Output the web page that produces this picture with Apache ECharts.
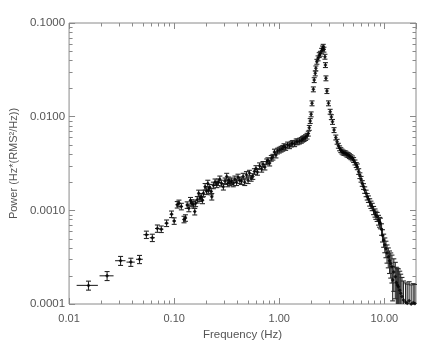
<!DOCTYPE html>
<html>
<head>
<meta charset="utf-8">
<title>Power spectrum</title>
<script src="https://cdn.jsdelivr.net/npm/echarts@6/dist/echarts.min.js"></script>
<style>
    html, body { margin: 0; padding: 0; background: #fff; }
    #chart { width: 436px; height: 349px; }
</style>
</head>
<body>
<div id="chart"></div>
<script>
    // frequency (Hz), power and relative power error
    let freq = [
        0.0153, 0.0230, 0.0309, 0.0387, 0.0468, 0.0544, 0.0620, 0.0692, 0.0754, 0.0847, 0.0944, 0.1000,
        0.107, 0.111, 0.117, 0.124, 0.128, 0.133, 0.138, 0.143, 0.147, 0.152, 0.157, 0.160,
        0.166, 0.171, 0.176, 0.181, 0.186, 0.190, 0.197, 0.203, 0.209, 0.212, 0.218, 0.225,
        0.228, 0.236, 0.245, 0.254, 0.263, 0.272, 0.282, 0.294, 0.305, 0.316, 0.323, 0.331,
        0.339, 0.352, 0.365, 0.378, 0.392, 0.405, 0.421, 0.437, 0.453, 0.469, 0.487, 0.505,
        0.52, 0.54, 0.56, 0.58, 0.60, 0.62, 0.65, 0.68, 0.70, 0.73, 0.76, 0.78,
        0.81, 0.84, 0.87, 0.90, 0.93, 0.96, 1.00, 1.04, 1.08, 1.11, 1.15, 1.20,
        1.25, 1.30, 1.34, 1.40, 1.45, 1.50, 1.56, 1.62, 1.67, 1.72, 1.78, 1.84,
        1.89, 1.93, 1.97, 2.01, 2.05, 2.11, 2.15, 2.20, 2.23,
        2.28, 2.34, 2.40, 2.46, 2.53, 2.58, 2.62, 2.66, 2.72,
        2.75, 2.78, 2.84, 2.94, 3.05, 3.13, 3.21, 3.32, 3.45,
        3.55, 3.65, 3.75, 3.85, 3.95, 4.05, 4.15, 4.29, 4.40, 4.52,
        4.65, 4.80, 4.96, 5.10, 5.25, 5.40, 5.53, 5.70, 5.85, 6.00,
        6.16, 6.33, 6.50, 6.70, 6.87, 7.05, 7.25, 7.45, 7.66, 7.90,
        8.15, 8.30, 8.54, 8.80, 9.00, 9.17, 9.40, 9.60, 9.85, 10.1,
        10.35, 10.6, 10.9, 11.2, 11.5, 11.8, 12.0, 12.3, 12.7, 13.0,
        13.3, 13.6, 14.0, 14.3, 14.7, 15.2, 15.9, 16.5, 17.2, 18.0, 18.8, 19.5
    ];
    let power = [
        1.58e-4, 2.0e-4, 2.9e-4, 2.8e-4, 3.0e-4, 5.5e-4, 5.1e-4, 6.4e-4, 6.3e-4, 7.3e-4, 9.1e-4, 7.7e-4,
        1.15e-3, 1.19e-3, 1.10e-3, 8.0e-4, 8.3e-4, 1.14e-3, 1.05e-3, 1.27e-3, 1.20e-3, 1.15e-3, 9.7e-4, 1.19e-3,
        1.30e-3, 1.52e-3, 1.35e-3, 1.40e-3, 1.28e-3, 1.52e-3, 1.79e-3, 1.60e-3, 1.94e-3, 1.65e-3, 1.75e-3, 1.59e-3,
        1.40e-3, 1.85e-3, 2.00e-3, 1.90e-3, 2.00e-3, 2.15e-3, 1.94e-3, 1.79e-3, 2.05e-3, 2.30e-3, 1.94e-3, 2.10e-3,
        2.00e-3, 2.05e-3, 1.94e-3, 2.15e-3, 2.00e-3, 2.25e-3, 2.10e-3, 2.05e-3, 2.30e-3, 2.00e-3, 2.40e-3, 2.10e-3,
        2.50e-3, 2.20e-3, 2.30e-3, 2.60e-3, 2.80e-3, 2.55e-3, 3.00e-3, 2.75e-3, 3.10e-3, 2.90e-3, 3.30e-3, 3.40e-3,
        3.20e-3, 3.60e-3, 3.70e-3, 4.20e-3, 3.90e-3, 4.30e-3, 4.40e-3, 4.50e-3, 4.60e-3, 4.80e-3, 4.70e-3, 5.00e-3,
        4.90e-3, 5.10e-3, 5.20e-3, 5.15e-3, 5.40e-3, 5.40e-3, 5.50e-3, 5.60e-3, 5.75e-3, 5.85e-3, 6.00e-3, 6.20e-3,
        6.6e-3, 7.6e-3, 9.0e-3, 0.0106, 0.0139, 0.0196, 0.0246, 0.0290, 0.0328,
        0.0386, 0.0420, 0.0455, 0.0470, 0.0506, 0.0535, 0.0558, 0.0520, 0.0437,
        0.0356, 0.0257, 0.0188, 0.0139, 0.0113, 0.0099, 0.0088, 0.0072, 0.0060,
        5.4e-3, 4.9e-3, 4.6e-3, 4.4e-3, 4.25e-3, 4.15e-3, 4.1e-3, 4.06e-3, 3.95e-3, 3.9e-3,
        3.8e-3, 3.7e-3, 3.59e-3, 3.45e-3, 3.25e-3, 3.05e-3, 2.92e-3, 2.60e-3, 2.35e-3, 2.15e-3,
        1.94e-3, 1.80e-3, 1.65e-3, 1.52e-3, 1.40e-3, 1.32e-3, 1.22e-3, 1.15e-3, 1.09e-3, 1.00e-3,
        9.4e-4, 8.9e-4, 8.55e-4, 7.9e-4, 7.5e-4, 7.3e-4, 6.3e-4, 5.4e-4, 4.8e-4, 4.3e-4,
        3.9e-4, 3.5e-4, 3.2e-4, 2.9e-4, 2.7e-4, 2.5e-4, 1.8e-4, 2.2e-4, 1.96e-4, 1.7e-4,
        1.6e-4, 1.53e-4, 1.4e-4, 1.3e-4, 1.2e-4, 1.1e-4, 1.05e-4, 1.02e-4, 1.08e-4, 1.0e-4, 1.03e-4, 1.01e-4
    ];
    let powerErr = [
        0.11, 0.11, 0.11, 0.10, 0.10, 0.09, 0.09, 0.09, 0.08, 0.08, 0.08, 0.08,
        0.08, 0.08, 0.08, 0.08, 0.08, 0.08, 0.08, 0.08, 0.08, 0.08, 0.08, 0.08,
        0.08, 0.08, 0.08, 0.08, 0.08, 0.08, 0.08, 0.08, 0.08, 0.08, 0.08, 0.08,
        0.08, 0.08, 0.08, 0.08, 0.08, 0.08, 0.08, 0.08, 0.08, 0.08, 0.08, 0.08,
        0.08, 0.08, 0.08, 0.08, 0.08, 0.08, 0.08, 0.08, 0.08, 0.08, 0.08, 0.08,
        0.07, 0.07, 0.07, 0.07, 0.07, 0.07, 0.07, 0.07, 0.07, 0.07, 0.07, 0.07,
        0.07, 0.07, 0.07, 0.07, 0.07, 0.07, 0.07, 0.07, 0.07, 0.07, 0.07, 0.07,
        0.07, 0.07, 0.07, 0.07, 0.07, 0.07, 0.07, 0.07, 0.07, 0.07, 0.07, 0.07,
        0.06, 0.06, 0.06, 0.06, 0.06, 0.06, 0.06, 0.06, 0.06,
        0.06, 0.06, 0.06, 0.06, 0.06, 0.06, 0.06, 0.06, 0.06,
        0.06, 0.06, 0.06, 0.06, 0.06, 0.06, 0.06, 0.06, 0.06,
        0.06, 0.06, 0.06, 0.06, 0.06, 0.06, 0.06, 0.06, 0.06, 0.06,
        0.06, 0.06, 0.06, 0.06, 0.06, 0.06, 0.07, 0.07, 0.07, 0.07,
        0.07, 0.07, 0.08, 0.08, 0.08, 0.08, 0.09, 0.09, 0.09, 0.10,
        0.10, 0.10, 0.11, 0.12, 0.12, 0.13, 0.14, 0.15, 0.16, 0.18,
        0.20, 0.22, 0.24, 0.27, 0.30, 0.33, 0.40, 0.38, 0.42, 0.45,
        0.50, 0.55, 0.60, 0.60, 0.60, 0.60, 0.60, 0.60, 0.60, 0.60, 0.60, 0.60
    ];
    // half width of a frequency bin (Hz)
    let freqHalfBin = 0.0035;

    // minor ticks (2..9 of each decade)
    let xMinorTicks = [0.02, 0.03, 0.04, 0.05, 0.06, 0.07, 0.08, 0.09,
        0.2, 0.3, 0.4, 0.5, 0.6, 0.7, 0.8, 0.9,
        2, 3, 4, 5, 6, 7, 8, 9];
    let yMinorTicks = [2e-4, 3e-4, 4e-4, 5e-4, 6e-4, 7e-4, 8e-4, 9e-4,
        2e-3, 3e-3, 4e-3, 5e-3, 6e-3, 7e-3, 8e-3, 9e-3,
        0.02, 0.03, 0.04, 0.05, 0.06, 0.07, 0.08, 0.09];

    let chart = echarts.init(document.getElementById('chart'));

    let points = freq.map(function (f, i) {
        return [f, power[i], powerErr[i]];
    });
    let minorData = xMinorTicks.map(function (v) {
        return [v, 0.001, 0];
    }).concat(yMinorTicks.map(function (v) {
        return [1, v, 1];
    }));

    let frameColor = '#8a8a8a';
    let textColor = '#555';
    let fontFamily = 'Liberation Sans, Arial, sans-serif';

    function errorBar(params, api) {
        let f = api.value(0), p = api.value(1), e = api.value(2);
        let top = api.coord([f, p * (1 + e)]);
        let bot = api.coord([f, p * (1 - e)]);
        let left = api.coord([f - freqHalfBin, p]);
        let right = api.coord([f + freqHalfBin, p]);
        let cap = 2.5;
        let style = {stroke: '#2a2a2a', lineWidth: 1.1};
        return {
            type: 'group',
            children: [
                {type: 'line', shape: {x1: top[0], y1: top[1], x2: bot[0], y2: bot[1]}, style: style},
                {type: 'line', shape: {x1: top[0] - cap, y1: top[1], x2: top[0] + cap, y2: top[1]}, style: style},
                {type: 'line', shape: {x1: bot[0] - cap, y1: bot[1], x2: bot[0] + cap, y2: bot[1]}, style: style},
                {type: 'line', shape: {x1: left[0], y1: left[1], x2: right[0], y2: right[1]}, style: style}
            ]
        };
    }

    function minorTick(params, api) {
        let cs = params.coordSys;
        let len = 3.5;
        let style = {stroke: frameColor, lineWidth: 1};
        if (api.value(2) === 0) {
            let x = Math.round(api.coord([api.value(0), 0.001])[0]) + 0.5;
            return {
                type: 'group',
                children: [
                    {type: 'line', shape: {x1: x, y1: cs.y + cs.height, x2: x, y2: cs.y + cs.height - len}, style: style},
                    {type: 'line', shape: {x1: x, y1: cs.y, x2: x, y2: cs.y + len}, style: style}
                ]
            };
        }
        let y = Math.round(api.coord([1, api.value(1)])[1]) + 0.5;
        return {
            type: 'group',
            children: [
                {type: 'line', shape: {x1: cs.x, y1: y, x2: cs.x + len, y2: y}, style: style},
                {type: 'line', shape: {x1: cs.x + cs.width, y1: y, x2: cs.x + cs.width - len, y2: y}, style: style}
            ]
        };
    }

    let option = {
        backgroundColor: '#fff',
        animation: false,
        grid: {
            left: 66,
            right: 20,
            top: 23,
            bottom: 45,
            show: true,
            borderColor: frameColor,
            borderWidth: 1,
            backgroundColor: 'transparent'
        },
        xAxis: [
            {
                type: 'log',
                logBase: 10,
                min: 0.01,
                max: 20,
                name: 'Frequency (Hz)',
                nameLocation: 'middle',
                nameGap: 22,
                nameTextStyle: {color: textColor, fontSize: 11.5, fontFamily: fontFamily},
                axisLine: {show: false},
                axisTick: {inside: true, length: 6, lineStyle: {color: frameColor}},
                splitLine: {show: false},
                axisLabel: {
                    color: textColor,
                    fontSize: 11,
                    fontFamily: fontFamily,
                    margin: 9,
                    showMaxLabel: false,
                    formatter: function (v) {
                        return v.toFixed(2);
                    }
                }
            },
            {
                type: 'log',
                logBase: 10,
                min: 0.01,
                max: 20,
                position: 'top',
                axisLine: {show: false},
                axisTick: {inside: true, length: 6, lineStyle: {color: frameColor}},
                axisLabel: {show: false},
                splitLine: {show: false}
            }
        ],
        yAxis: [
            {
                type: 'log',
                logBase: 10,
                min: 0.0001,
                max: 0.1,
                name: 'Power (Hz*(RMS\u00b2/Hz))',
                nameLocation: 'middle',
                nameGap: 50,
                nameTextStyle: {color: textColor, fontSize: 11, fontFamily: fontFamily},
                axisLine: {show: false},
                axisTick: {inside: true, length: 6, lineStyle: {color: frameColor}},
                splitLine: {show: false},
                axisLabel: {
                    color: textColor,
                    fontSize: 11.5,
                    fontFamily: fontFamily,
                    margin: 4,
                    formatter: function (v) {
                        return v.toFixed(4);
                    }
                }
            },
            {
                type: 'log',
                logBase: 10,
                min: 0.0001,
                max: 0.1,
                position: 'right',
                axisLine: {show: false},
                axisTick: {inside: true, length: 6, lineStyle: {color: frameColor}},
                axisLabel: {show: false},
                splitLine: {show: false}
            }
        ],
        series: [
            {
                type: 'custom',
                silent: true,
                renderItem: minorTick,
                data: minorData,
                z: 1
            },
            {
                type: 'custom',
                clip: true,
                silent: true,
                renderItem: errorBar,
                encode: {x: 0, y: 1},
                data: points,
                z: 2
            },
            {
                type: 'scatter',
                symbol: 'diamond',
                symbolSize: 4,
                silent: true,
                itemStyle: {color: '#000'},
                data: points,
                z: 3
            }
        ]
    };
    chart.setOption(option);
</script>
</body>
</html>
